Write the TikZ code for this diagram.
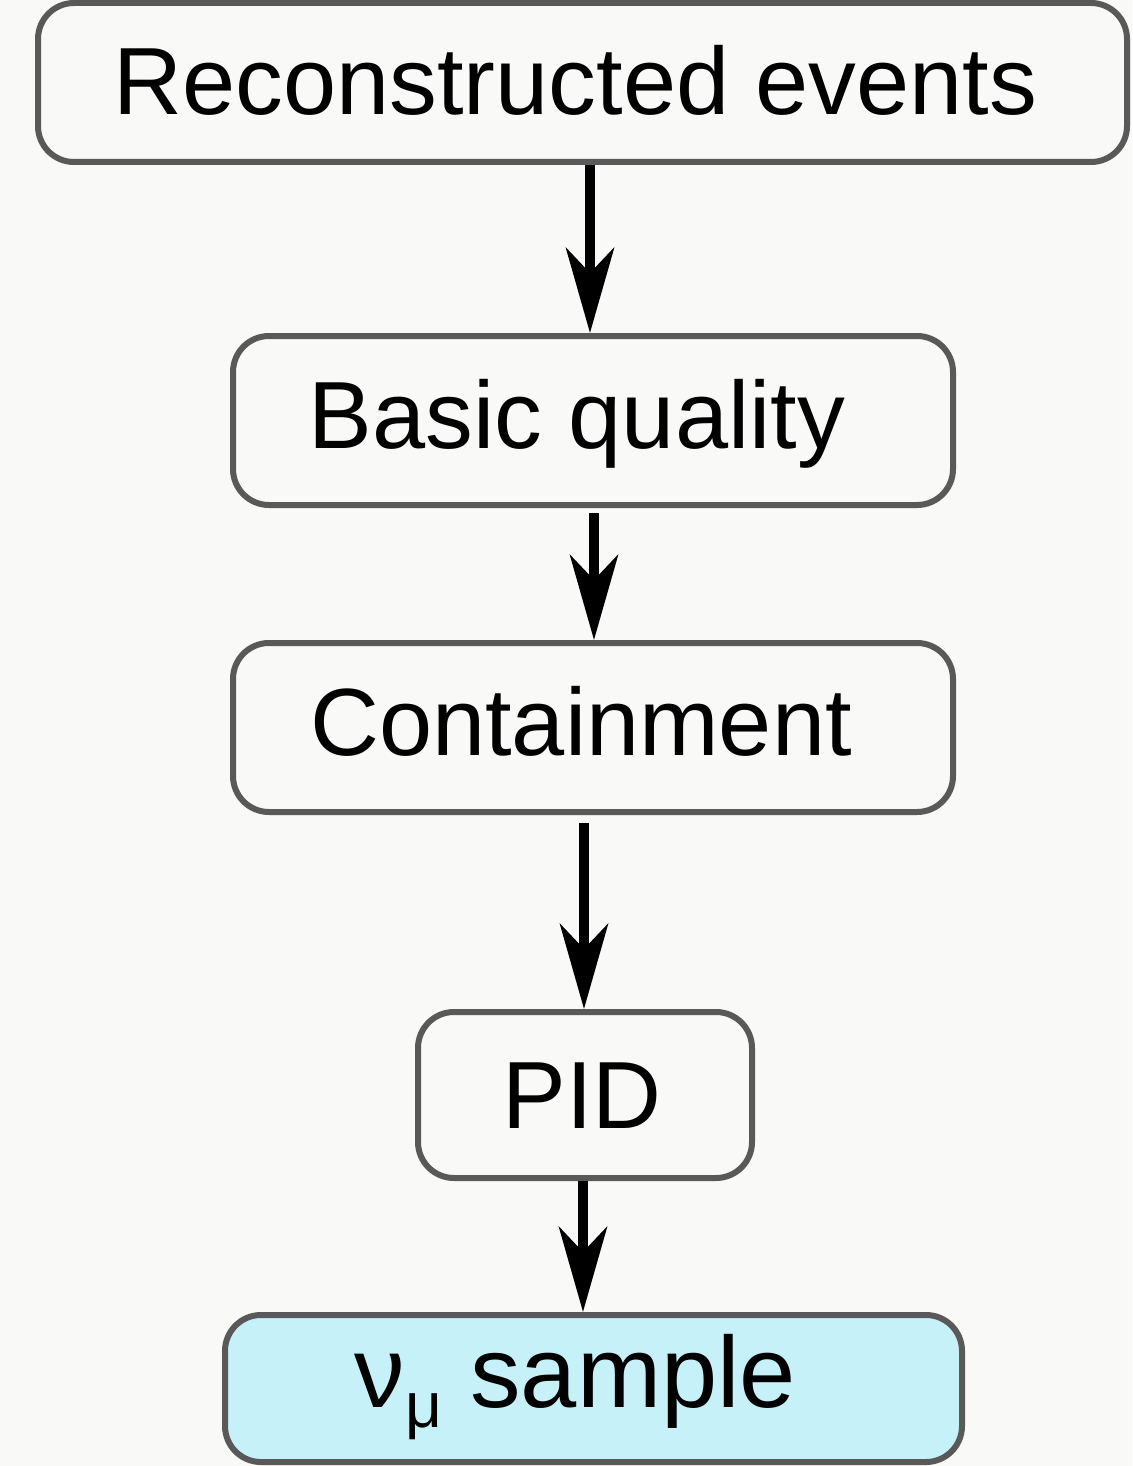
\documentclass[tikz,border=0pt]{standalone}
\usepackage{fontspec}
\setmainfont{Liberation Sans}
\usetikzlibrary{arrows.meta}
\definecolor{paper}{HTML}{F9F9F7}
\definecolor{boxline}{HTML}{595959}
\definecolor{samplefill}{HTML}{C6F1F9}
\begin{document}
\begin{tikzpicture}[x=1pt,y=-1pt,
  stagebox/.style={draw=boxline, line width=6pt, rounded corners=36pt,
    rectangle, inner sep=0pt, fill=paper},
  stagetext/.style={inner sep=0pt, text height=70pt, text depth=0pt,
    font=\fontsize{95.5}{110}\selectfont},
  flow/.style={line width=10pt, -{Stealth[length=85pt, width=48pt, inset=25pt]}}]
  % page and background
  \fill[paper] (0,0) rectangle (1132,1466);
  \useasboundingbox (0,0) rectangle (1132,1466);

  % boxes of the selection chain
  \node[stagebox, minimum width=1089pt, minimum height=159pt] (reco) at (582.5,82.5) {};
  \node[stagebox, minimum width=720pt, minimum height=169pt] (quality) at (593,420.5) {};
  \node[stagebox, minimum width=720pt, minimum height=169pt] (contain) at (593,727.5) {};
  \node[stagebox, minimum width=334pt, minimum height=166pt] (pid) at (585,1095) {};
  \node[stagebox, fill=samplefill, minimum width=737pt, minimum height=147pt] (sample) at (593.5,1388.5) {};

  % box labels
  \node[stagetext, xshift=-7pt, yshift=3pt] (recotext) at (reco.center) {Reconstructed events};
  \node[stagetext, xshift=-16pt, yshift=7pt] (qualitytext) at (quality.center) {Basic quality};
  \node[stagetext, xshift=-12pt, yshift=7pt] (containtext) at (contain.center) {Containment};
  \node[stagetext, xshift=-3pt, yshift=2pt] (pidtext) at (pid.center) {PID};
  \node[stagetext, font=\fontsize{101}{115}\selectfont, xshift=-18pt, yshift=16pt]
    (sampletext) at (sample.center)
    {ν\raisebox{-20pt}{\fontsize{64}{64}\selectfont μ} sample};

  % arrows between stages
  \draw[flow] (reco.south -| 590,0) -- (quality.north -| 590,0);
  \draw[flow] ([yshift=-5pt]quality.south -| 594,0) -- (contain.north -| 594,0);
  \draw[flow, shorten <=8pt] (contain.south -| 584,0) -- (pid.north -| 584,0);
  \draw[flow] (pid.south -| 583,0) -- (sample.north -| 583,0);
\end{tikzpicture}
\end{document}
